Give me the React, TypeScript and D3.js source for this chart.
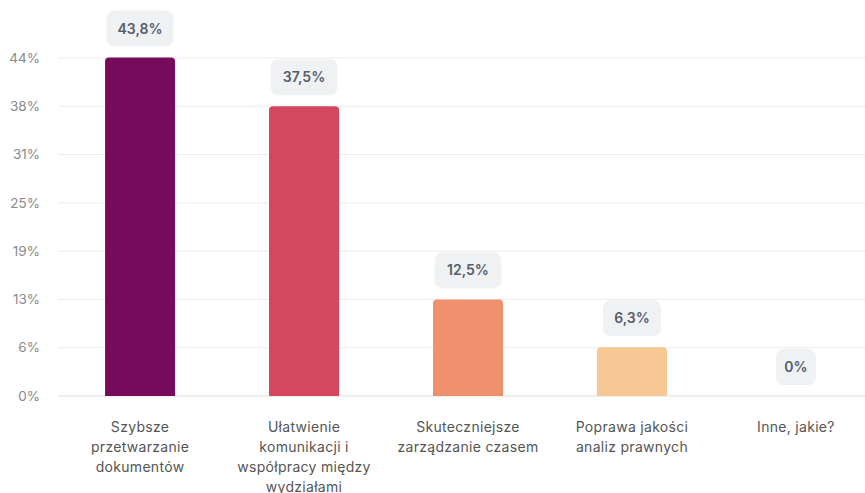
import React from "react";
import * as d3 from "d3";

const categories: string[][] = [
  ["Szybsze", "przetwarzanie", "dokumentów"],
  ["Ułatwienie", "komunikacji i", "współpracy między", "wydziałami"],
  ["Skuteczniejsze", "zarządzanie czasem"],
  ["Poprawa jakości", "analiz prawnych"],
  ["Inne, jakie?"],
];
const values: number[] = [43.8, 37.5, 12.5, 6.3, 0];
const valueLabels: string[] = ["43,8%", "37,5%", "12,5%", "6,3%", "0%"];
const colors: string[] = ["#780a5b", "#d4475c", "#f0916e", "#f7c794", "#f7c794"];
const ticks: number[] = [0, 6.25, 12.5, 18.75, 25, 31.25, 37.5, 43.75];

const W = 865;
const H = 493;
const left = 58;
const top = 58;
const bottom = 396;

export default function App() {
  const x = d3
    .scaleBand<number>()
    .domain(values.map((_, i) => i))
    .range([left, left + 5 * 164])
    .paddingInner(0.573)
    .paddingOuter(0.287);
  const y = d3.scaleLinear().domain([0, 43.75]).range([bottom, top]);
  const bw = x.bandwidth();
  const font = "Inter, 'Noto Sans', sans-serif";

  return (
    <svg
      width={W}
      height={H}
      style={{ position: "absolute", left: 0, top: 0, background: "#fff" }}
      fontFamily={font}
    >
      {ticks.map((t, i) => (
        <g key={i}>
          <line
            x1={left}
            x2={W}
            y1={y(t)}
            y2={y(t)}
            stroke={t === 0 ? "#d9dce4" : "#ececec"}
            strokeWidth={1}
          />
          <text
            x={40}
            y={y(t)}
            dy="0.35em"
            textAnchor="end"
            fontSize={13.5}
            fill="#8a8a8a"
          >
            {Math.round(t)}%
          </text>
        </g>
      ))}
      {values.map((v, i) => {
        const x0 = x(i)!;
        const yt = y(v);
        const h = bottom - yt;
        const r = Math.min(4, h);
        const path =
          h > 0
            ? `M${x0},${bottom} V${yt + r} Q${x0},${yt} ${x0 + r},${yt} H${x0 + bw - r} Q${x0 + bw},${yt} ${x0 + bw},${yt + r} V${bottom} Z`
            : "";
        const cx = x0 + bw / 2;
        const pw = valueLabels[i].length * 9 + 22;
        const ph = 36;
        const pb = yt - 11;
        return (
          <g key={i}>
            {h > 0 && <path d={path} fill={colors[i]} />}
            <rect
              x={cx - pw / 2}
              y={pb - ph}
              width={pw}
              height={ph}
              rx={8}
              fill="#eff1f3"
            />
            <text
              x={cx}
              y={pb - ph / 2}
              dy="0.35em"
              textAnchor="middle"
              fontSize={14}
              fontWeight={600}
              fill="#565d6e"
            >
              {valueLabels[i]}
            </text>
            {categories[i].map((line, j) => (
              <text
                key={j}
                x={cx}
                y={427 + j * 20}
                dy="0.35em"
                textAnchor="middle"
                fontSize={14}
                letterSpacing={0.3}
                fill="#555"
              >
                {line}
              </text>
            ))}
          </g>
        );
      })}
    </svg>
  );
}
